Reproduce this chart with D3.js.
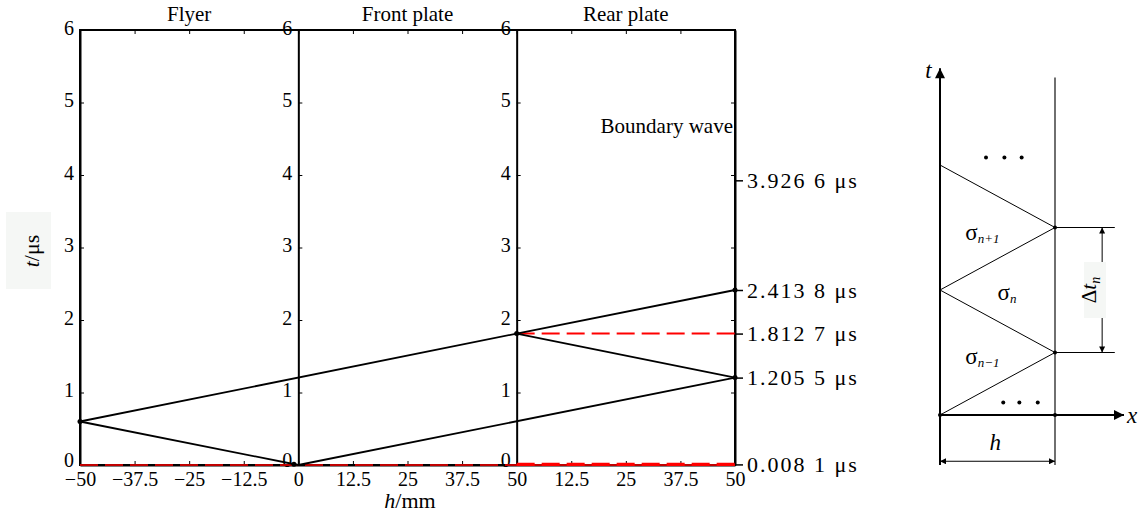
<!DOCTYPE html>
<html>
<head>
<meta charset="utf-8">
<script src="https://cdn.jsdelivr.net/npm/d3@7"></script>
<style>
body { margin: 0; background: #fff; }
text { font-family: "Liberation Serif", "Times New Roman", serif; fill: #000; }
.tick text { font-size: 20px; }
.mark .tick text { font-size: 22px; letter-spacing: 2px; }
</style>
</head>
<body>
<script>
// panels, h given as one running coordinate (mm): flyer -50..0, front 0..50, rear 50..100
const panelNames = ["Flyer", "Front plate", "Rear plate"];
const panelStarts = [-50, 0, 50];
const hTicks = [-50, -37.5, -25, -12.5, 0, 12.5, 25, 37.5, 50, 62.5, 75, 87.5, 100];
const tTicks = [0, 1, 2, 3, 4, 5, 6];

// wave paths [h, t(us)]
const waveLines = [
  [[-50, 0.6], [0, 0]],
  [[-50, 0.6], [50, 1.8127]],
  [[0, 0], [100, 1.2055]],
  [[50, 1.8127], [100, 2.4138]],
  [[50, 1.8127], [100, 1.2055]]
];
const wavePoints = [[-50, 0.6], [-1, 0.01], [50, 1.8127], [100, 2.4138], [100, 1.2055]];

// boundary (red dashed)
const boundaryLines = [
  [[-50, 0], [100, 0]],
  [[50, 0.0081], [100, 0.0081]],
  [[50, 1.8127], [100, 1.8127]]
];
const boundaryWidths = [1.6, 3.2, 2];

const markTimes = [3.9266, 2.4138, 1.8127, 1.2055, 0.0081];
const markLabels = ["3.926 6 μs", "2.413 8 μs", "1.812 7 μs", "1.205 5 μs", "0.008 1 μs"];

// schematic, x in units of h, t in units of dt/2
const zigzag = [[0, 4], [1, 3], [0, 2], [1, 1], [0, 0]];
const stepLevels = [3, 1];
const nodeDots = [[1, 3], [1, 1], [0, 0], [1, 0]];
const ellipsisTop = [0.4, 0.56, 0.71];
const ellipsisBottom = [0.55, 0.69, 0.85];
const sigmaLabels = [
  { x: 0.22, t: 2.8, sub: "n+1" },
  { x: 0.5, t: 1.84, sub: "n" },
  { x: 0.22, t: 0.82, sub: "n\u22121" }
];

const W = 1144, H = 517;
const svg = d3.select("body").append("svg")
  .attr("width", W).attr("height", H);

svg.append("rect").attr("width", W).attr("height", H).attr("fill", "#fff");

const defs = svg.append("defs");
defs.append("marker").attr("id", "big")
  .attr("viewBox", "0 0 10 10").attr("refX", 10).attr("refY", 5)
  .attr("markerWidth", 14).attr("markerHeight", 10).attr("markerUnits", "userSpaceOnUse")
  .attr("orient", "auto")
  .append("path").attr("d", "M0,0L10,5L0,10Z").attr("fill", "#000");
defs.append("marker").attr("id", "small")
  .attr("viewBox", "0 0 10 10").attr("refX", 10).attr("refY", 5)
  .attr("markerWidth", 11).attr("markerHeight", 6).attr("markerUnits", "userSpaceOnUse")
  .attr("orient", "auto-start-reverse")
  .append("path").attr("d", "M0,0L10,5L0,10Z").attr("fill", "#000");

const x = d3.scaleLinear().domain([-50, 100]).range([80, 735]);
const y = d3.scaleLinear().domain([0, 6]).range([465, 30]);

const fmtH = v => {
  const a = v > 50 ? v - 50 : v;
  return a < 0 ? "\u2212" + Math.abs(a) : String(a);
};

// frame
svg.append("rect")
  .attr("x", x(-50)).attr("y", y(6))
  .attr("width", x(100) - x(-50)).attr("height", y(0) - y(6))
  .attr("fill", "none").attr("stroke", "#000").attr("stroke-width", 2);

// top ticks
svg.append("g").attr("transform", `translate(0,${y(6)})`)
  .call(d3.axisTop(x).tickValues(hTicks).tickSize(-4).tickSizeOuter(0).tickFormat(""))
  .call(g => g.select(".domain").remove());

// bottom axis
svg.append("g").attr("transform", `translate(0,${y(0)})`)
  .call(d3.axisBottom(x).tickValues(hTicks).tickSize(-4).tickSizeOuter(0).tickPadding(7).tickFormat(fmtH))
  .call(g => g.select(".domain").attr("stroke-width", 2));

// left axes of each panel
panelStarts.forEach(s => {
  svg.append("g").attr("transform", `translate(${x(s)},0)`)
    .call(d3.axisLeft(y).tickValues(tTicks).tickSize(-4).tickSizeOuter(0).tickPadding(6)
      .tickFormat(d3.format("d")))
    .call(g => g.select(".domain").attr("stroke-width", 2))
    .call(g => g.selectAll(".tick text").attr("dy", d => d === 0 ? "0.08em" : "0.22em"));
});

// right axis
svg.append("g").attr("transform", `translate(${x(100)},0)`)
  .call(d3.axisRight(y).tickValues(tTicks.slice(1)).tickSize(-4).tickSizeOuter(0).tickFormat(""))
  .call(g => g.select(".domain").attr("stroke-width", 2));
svg.append("g").attr("class", "mark").attr("transform", `translate(${x(100)},0)`)
  .call(d3.axisRight(y).tickValues(markTimes).tickSize(8).tickPadding(4)
    .tickFormat((d, i) => markLabels[i]))
  .call(g => g.select(".domain").remove())
  .call(g => g.selectAll(".tick line").attr("stroke-width", 1.5));

// panel titles
svg.selectAll(".ptitle").data(panelNames).join("text")
  .attr("class", "ptitle")
  .attr("x", (d, i) => (x(panelStarts[i]) + x(panelStarts[i] + 50)) / 2)
  .attr("y", 21).attr("text-anchor", "middle").attr("font-size", 21)
  .text(d => d);

svg.append("text").attr("x", x(100) - 2).attr("y", 133)
  .attr("text-anchor", "end").attr("font-size", 21).text("Boundary wave");

const line = d3.line().x(d => x(d[0])).y(d => y(d[1]));

// boundary waves
svg.selectAll(".bnd").data(boundaryLines).join("path")
  .attr("class", "bnd").attr("d", line)
  .attr("fill", "none").attr("stroke", "#f00")
  .attr("stroke-width", (d, i) => boundaryWidths[i])
  .attr("stroke-dasharray", "18,7");

// stress waves
svg.selectAll(".wave").data(waveLines).join("path")
  .attr("class", "wave").attr("d", line)
  .attr("fill", "none").attr("stroke", "#000").attr("stroke-width", 1.8);

svg.selectAll(".wpt").data(wavePoints).join("circle")
  .attr("class", "wpt").attr("cx", d => x(d[0])).attr("cy", d => y(d[1]))
  .attr("r", 2.5).attr("fill", "#000");

// axis titles
svg.append("rect").attr("x", 6).attr("y", 212).attr("width", 45).attr("height", 77).attr("fill", "#f5f7f5");
const ty = svg.append("text").attr("transform", "translate(39,251) rotate(-90)")
  .attr("text-anchor", "middle").attr("font-size", 22);
ty.append("tspan").attr("font-style", "italic").text("t");
ty.append("tspan").text("/μs");

const tx = svg.append("text").attr("x", 410).attr("y", 508)
  .attr("text-anchor", "middle").attr("font-size", 22);
tx.append("tspan").attr("font-style", "italic").text("h");
tx.append("tspan").text("/mm");

// ---- schematic on the right ----
const sx = d3.scaleLinear().domain([0, 1]).range([940, 1055]);
const st = d3.scaleLinear().domain([0, 4]).range([415, 165]);
const sk = svg.append("g");

sk.append("line").attr("x1", sx(0)).attr("y1", st(-0.8)).attr("x2", sx(0)).attr("y2", st(5.55))
  .attr("stroke", "#000").attr("stroke-width", 2).attr("marker-end", "url(#big)");
sk.append("line").attr("x1", sx(0)).attr("y1", st(0)).attr("x2", sx(1.6)).attr("y2", st(0))
  .attr("stroke", "#000").attr("stroke-width", 2).attr("marker-end", "url(#big)");
sk.append("line").attr("x1", sx(1)).attr("y1", st(-0.8)).attr("x2", sx(1)).attr("y2", st(5.4))
  .attr("stroke", "#333").attr("stroke-width", 1.4);

sk.append("path").datum(zigzag)
  .attr("d", d3.line().x(d => sx(d[0])).y(d => st(d[1])))
  .attr("fill", "none").attr("stroke", "#000").attr("stroke-width", 1);

sk.selectAll(".lev").data(stepLevels).join("line").attr("class", "lev")
  .attr("x1", sx(1)).attr("x2", sx(1.52)).attr("y1", d => st(d)).attr("y2", d => st(d))
  .attr("stroke", "#000").attr("stroke-width", 1.2);

sk.append("line").attr("x1", sx(1.41)).attr("x2", sx(1.41))
  .attr("y1", st(stepLevels[1])).attr("y2", st(stepLevels[0]))
  .attr("stroke", "#000").attr("stroke-width", 1)
  .attr("marker-start", "url(#small)").attr("marker-end", "url(#small)");

sk.append("line").attr("x1", sx(0)).attr("x2", sx(1))
  .attr("y1", st(-0.74)).attr("y2", st(-0.74))
  .attr("stroke", "#000").attr("stroke-width", 1)
  .attr("marker-start", "url(#small)").attr("marker-end", "url(#small)");

sk.selectAll(".nd").data(nodeDots).join("circle").attr("class", "nd")
  .attr("cx", d => sx(d[0])).attr("cy", d => st(d[1])).attr("r", 2).attr("fill", "#000");

sk.selectAll(".e1").data(ellipsisTop).join("circle").attr("class", "e1")
  .attr("cx", d => sx(d)).attr("cy", st(4.12)).attr("r", 2).attr("fill", "#000");
sk.selectAll(".e2").data(ellipsisBottom).join("circle").attr("class", "e2")
  .attr("cx", d => sx(d)).attr("cy", st(0.2)).attr("r", 2).attr("fill", "#000");

const sg = sk.selectAll(".sig").data(sigmaLabels).join("text").attr("class", "sig")
  .attr("x", d => sx(d.x)).attr("y", d => st(d.t)).attr("font-size", 23);
sg.append("tspan").text("σ");
sg.append("tspan").attr("font-size", 13).attr("font-style", "italic").attr("dy", 3).text(d => d.sub);

sk.append("rect").attr("x", 1084).attr("y", 262).attr("width", 22).attr("height", 56).attr("fill", "#f5f7f5");
const dt = sk.append("text").attr("transform", `translate(${sx(1.41) - 6},${st(2)}) rotate(-90)`)
  .attr("text-anchor", "middle").attr("font-size", 21);
dt.append("tspan").text("Δ");
dt.append("tspan").attr("font-style", "italic").text("t");
dt.append("tspan").attr("font-style", "italic").attr("font-size", 14).attr("dy", 4).text("n");

sk.append("text").attr("x", sx(0.48)).attr("y", st(-0.56)).attr("text-anchor", "middle")
  .attr("font-size", 23).attr("font-style", "italic").text("h");
sk.append("text").attr("x", sx(-0.1)).attr("y", st(5.4)).attr("text-anchor", "middle")
  .attr("font-size", 23).attr("font-style", "italic").text("t");
sk.append("text").attr("x", sx(1.67)).attr("y", st(-0.12)).attr("text-anchor", "middle")
  .attr("font-size", 23).attr("font-style", "italic").text("x");
</script>
</body>
</html>
